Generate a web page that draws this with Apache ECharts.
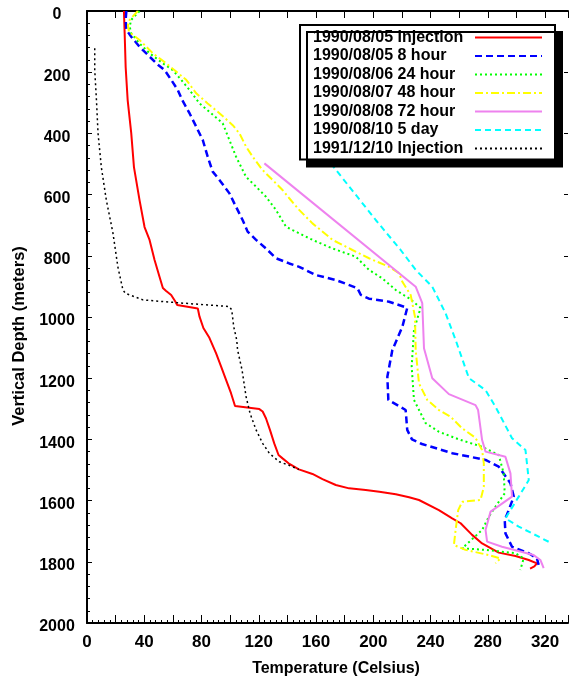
<!DOCTYPE html>
<html>
<head>
<meta charset="utf-8">
<script src="https://cdn.jsdelivr.net/npm/echarts@6/dist/echarts.min.js"></script>
<style>
  html, body { margin: 0; padding: 0; background: #fff; }
  #main { width: 571px; height: 682px; }
</style>
</head>
<body>
<div id="main"></div>
<script>
// [temperature (C), depth (m)]
var inj0805 = [[25.8,0],[26.3,72],[27.0,183],[28.4,291],[30.9,399],[32.8,510],[36.7,618],[40.2,706],[43.7,748],[47.2,814],[50.7,869],[53.0,905],[55.3,915],[58.8,928],[61.8,950],[63.0,961],[77.4,972],[78.6,999],[81.3,1036],[85.5,1068],[90.2,1119],[93.7,1162],[97.2,1206],[100.6,1249],[103.4,1291],[120.4,1301],[122.7,1309],[125.0,1331],[127.8,1369],[130.8,1413],[133.8,1451],[136.6,1462],[140.8,1478],[148.0,1498],[157.5,1513],[164.5,1530],[173.8,1549],[183.1,1560],[194.7,1565],[204.2,1571],[215.7,1579],[225.0,1589],[231.9,1598],[245.8,1631],[255.1,1658],[261.0,1674],[269.0,1712],[276.0,1740],[287.6,1770],[299.3,1781],[308.6,1794],[314.3,1805],[312.5,1815],[309.5,1822]];
var h8 = [[27.5,0],[27.0,29],[27.5,62],[30.9,84],[36.7,117],[43.7,149],[49.5,176],[54.2,193],[58.8,225],[63.4,258],[66.5,291],[71.6,334],[76.3,378],[80.9,422],[84.3,476],[87.8,525],[92.5,552],[99.5,596],[104.1,640],[108.7,683],[112.2,721],[118.1,748],[125.0,776],[132.0,808],[141.3,825],[148.2,836],[159.9,863],[173.8,879],[188.9,906],[191.3,928],[197.0,940],[211.0,950],[223.7,970],[220.3,1032],[213.3,1108],[209.8,1195],[210.5,1271],[222.6,1304],[223.7,1369],[227.0,1400],[234.0,1415],[255.1,1445],[278.4,1467],[287.6,1489],[295.8,1543],[298.1,1587],[294.6,1631],[291.8,1663],[292.3,1707],[296.9,1751],[308.6,1772],[314.3,1789],[315.5,1810]];
var h24 = [[36.7,0],[30.9,29],[29.8,51],[30.9,73],[36.7,106],[43.7,138],[53.0,171],[59.9,193],[65.8,225],[71.6,258],[78.6,302],[86.7,334],[94.8,367],[99.5,422],[104.1,476],[111.1,542],[118.1,574],[125.0,607],[132.0,650],[139.0,705],[143.6,716],[157.5,748],[171.5,776],[187.8,803],[197.0,846],[206.3,874],[215.7,912],[225.0,939],[233.0,970],[228.4,1043],[226.8,1162],[228.4,1271],[236.6,1347],[245.8,1375],[259.8,1400],[276.0,1424],[287.6,1451],[291.1,1511],[291.8,1576],[285.3,1620],[280.7,1653],[276.0,1696],[262.1,1756],[278.4,1761],[299.3,1772],[305.0,1789],[302.7,1827]];
var h48 = [[35.5,0],[29.8,29],[28.6,46],[29.3,68],[36.7,95],[46.0,138],[55.3,171],[62.3,198],[69.3,225],[76.3,269],[84.3,302],[92.5,334],[101.8,373],[106.5,400],[111.1,443],[115.7,476],[122.7,520],[129.6,552],[136.6,585],[141.3,612],[148.2,650],[157.5,694],[171.5,748],[185.4,781],[197.0,808],[211.0,836],[218.0,857],[220.3,885],[226.1,928],[229.1,999],[229.6,1108],[231.9,1217],[237.7,1271],[245.8,1304],[254.0,1326],[262.1,1364],[271.4,1395],[276.0,1435],[277.2,1478],[277.2,1555],[274.9,1598],[262.1,1604],[259.3,1631],[257.5,1696],[256.3,1745],[264.4,1761],[280.7,1778],[288.8,1789],[285.3,1805]];
var h72 = [[123.9,498],[229.6,901],[234.2,955],[235.4,1102],[241.2,1200],[252.8,1252],[271.4,1288],[273.2,1304],[276.0,1402],[278.4,1440],[292.3,1457],[295.8,1511],[296.9,1587],[281.9,1636],[278.4,1696],[279.5,1734],[289.9,1751],[312.0,1778],[316.7,1794],[319.0,1821]];
var d5 = [[170.3,498],[201.7,683],[219.1,781],[229.6,846],[241.2,901],[250.5,988],[257.5,1075],[266.8,1200],[278.4,1239],[285.3,1293],[296.9,1396],[306.3,1435],[308.6,1533],[301.6,1587],[292.3,1658],[301.6,1685],[324.8,1740]];
var inj1991 = [[5.4,122],[5.4,193],[6.6,291],[7.7,399],[10.0,510],[13.5,618],[18.1,725],[21.6,837],[25.1,912],[27.0,923],[39.0,944],[62.3,953],[99.5,966],[101.1,977],[102.5,1032],[104.6,1075],[105.2,1108],[108.3,1173],[111.1,1260],[113.9,1315],[118.1,1369],[122.7,1413],[127.3,1445],[134.3,1473],[140.8,1484],[148.0,1498]];

var names = ['1990/08/05 Injection','1990/08/05 8 hour','1990/08/06 24 hour','1990/08/07 48 hour','1990/08/08 72 hour','1990/08/10 5 day','1991/12/10 Injection'];

var font = '"Liberation Sans", Arial, sans-serif';

var myChart = echarts.init(document.getElementById('main'));

function mk(name, data, color, width, dash) {
  return {
    name: name, type: 'line', data: data, symbol: 'none',
    xAxisIndex: 0, yAxisIndex: 0,
    lineStyle: { color: color, width: width, type: dash },
    itemStyle: { color: color }
  };
}

var option = {
  animation: false,
  backgroundColor: '#fff',
  grid: { left: 87, right: 1, top: 11, bottom: 59 },
  legend: {
    data: names,
    orient: 'vertical',
    left: 300, top: 25,
    align: 'right',
    padding: [4.5, 12, 3, 13],
    itemGap: 2.5,
    itemWidth: 67, itemHeight: 14,
    backgroundColor: '#fff',
    borderColor: '#000', borderWidth: 2,
    shadowColor: '#000', shadowBlur: 0, shadowOffsetX: 7, shadowOffsetY: 7,
    itemStyle: { opacity: 0 },
    formatter: '{a|{name}}',
    textStyle: {
      fontFamily: font, fontWeight: 'bold', fontSize: 16, color: '#000',
      rich: { a: { width: 157, align: 'left', fontFamily: font, fontWeight: 'bold', fontSize: 16, color: '#000' } }
    }
  },
  xAxis: [{
    type: 'value', position: 'bottom', min: 0, max: 336, interval: 20,
    name: 'Temperature (Celsius)', nameLocation: 'middle', nameGap: 38,
    nameTextStyle: { fontFamily: font, fontWeight: 'bold', fontSize: 16, color: '#000', padding: [0, 0, 0, 17] },
    axisLine: { onZero: false, lineStyle: { color: '#000', width: 2 } },
    axisTick: { inside: true, length: 8, lineStyle: { color: '#000', width: 1 } },
    minorTick: { show: true, splitNumber: 5, length: 3, lineStyle: { color: '#000', width: 1 } },
    axisLabel: {
      margin: 11, fontFamily: font, fontWeight: 'bold', fontSize: 17, color: '#000',
      formatter: function (v) { return (v % 40 === 0 && v <= 320) ? String(v) : ''; }
    },
    splitLine: { show: false }
  }, {
    type: 'value', position: 'top', min: 0, max: 336, interval: 20,
    axisLine: { onZero: false, lineStyle: { color: '#000', width: 2 } },
    axisTick: { inside: true, length: 7, lineStyle: { color: '#000', width: 1 } },
    axisLabel: { show: false },
    splitLine: { show: false }
  }],
  yAxis: [{
    type: 'value', position: 'left', inverse: true, min: 0, max: 2000, interval: 200,
    name: 'Vertical Depth (meters)', nameLocation: 'middle', nameGap: 48,
    nameTextStyle: { fontFamily: font, fontWeight: 'bold', fontSize: 16.5, color: '#000', padding: [0, 38, 0, 0] },
    axisLine: { onZero: false, lineStyle: { color: '#000', width: 2 } },
    axisTick: { inside: true, length: 5, lineStyle: { color: '#000', width: 1 } },
    minorTick: { show: true, splitNumber: 5, length: 3, lineStyle: { color: '#000', width: 1 } },
    axisLabel: {
      margin: 30, align: 'center', verticalAlign: 'top', lineHeight: 8,
      fontFamily: font, fontWeight: 'bold', fontSize: 16, color: '#000',
      formatter: function (v) { return String(v); }
    },
    splitLine: { show: false }
  }, {
    type: 'value', position: 'right', inverse: true, min: 0, max: 2000, interval: 200,
    axisLine: { show: false, onZero: false },
    axisTick: { inside: true, length: 4, lineStyle: { color: '#000', width: 1 } },
    axisLabel: { show: false },
    splitLine: { show: false }
  }],
  series: [
    mk(names[0], inj0805, '#ff0000', 2, 'solid'),
    mk(names[1], h8, '#0000ff', 2.5, [7, 4]),
    mk(names[2], h24, '#00ff00', 2, [2, 3]),
    mk(names[3], h48, '#ffff00', 2, [8, 3, 2, 3]),
    mk(names[4], h72, '#ee82ee', 2, 'solid'),
    mk(names[5], d5, '#00ffff', 2, [6, 4]),
    mk(names[6], inj1991, '#000000', 1.5, [2, 3])
  ]
};

myChart.setOption(option);
</script>
</body>
</html>
